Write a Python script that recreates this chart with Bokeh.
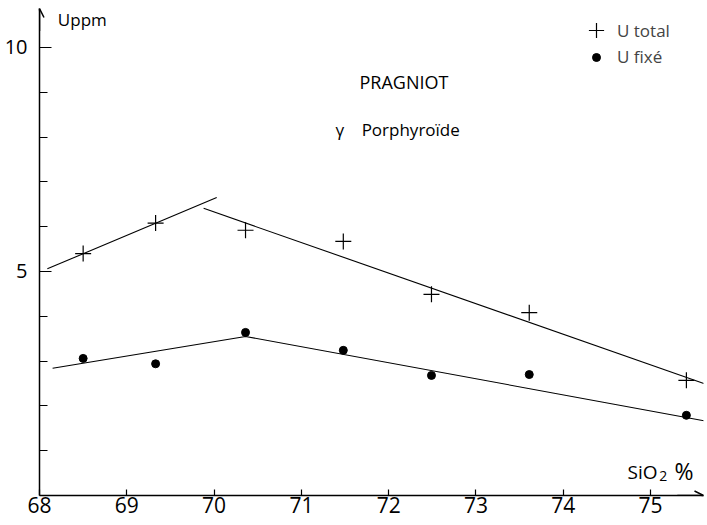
from bokeh.plotting import figure
from bokeh.models import Range1d, FixedTicker, Arrow, OpenHead, Legend, LegendItem
from bokeh.core.properties import value
from bokeh.embed import file_html
from bokeh.resources import INLINE

# ---- data ----
sio2 = [68.5, 69.33, 70.36, 71.48, 72.49, 73.61, 75.41]
u_total = [5.40, 6.08, 5.92, 5.67, 4.49, 4.08, 2.57]
u_fixe = [3.06, 2.94, 3.64, 3.24, 2.68, 2.70, 1.79]

# hand-drawn trend lines (end points)
total_trend1_x = [68.09, 70.03]
total_trend1_y = [5.06, 6.65]
total_trend2_x = [69.88, 75.61]
total_trend2_y = [6.41, 2.50]
fixe_trend_x = [68.15, 70.36, 75.61]
fixe_trend_y = [2.84, 3.55, 1.67]

x_ticks = [68, 69, 70, 71, 72, 73, 74, 75]
y_major_ticks = [5, 10]
y_minor_ticks = [1, 2, 3, 4, 6, 7, 8, 9]

X_START, X_END = 68, 75.606
Y_START, Y_END = 0, 10.87

FONT = "Open Sans"

p = figure(width=705, height=525,
           x_range=Range1d(X_START, X_END), y_range=Range1d(Y_START, Y_END),
           output_backend="svg", toolbar_location=None,
           min_border_left=39, min_border_right=2, min_border_top=8, min_border_bottom=30)
p.outline_line_color = None
p.xgrid.visible = False
p.ygrid.visible = False
p.background_fill_color = "white"
p.border_fill_color = "white"

# x axis
xa = p.xaxis[0]
xa.ticker = FixedTicker(ticks=x_ticks)
xa.major_tick_in = 6
xa.major_tick_out = 0
xa.minor_tick_in = 0
xa.minor_tick_out = 0
xa.axis_line_width = 1.5
xa.major_tick_line_width = 1.2
xa.major_label_standoff = 1
xa.major_label_text_font = FONT
xa.major_label_text_font_size = "21px"
xa.major_label_text_color = "black"

# y axis
ya = p.yaxis[0]
ya.ticker = FixedTicker(ticks=y_major_ticks, minor_ticks=y_minor_ticks)
ya.major_tick_in = 12
ya.major_tick_out = 0
ya.minor_tick_in = 8
ya.minor_tick_out = 0
ya.axis_line_width = 1.5
ya.major_tick_line_width = 1.2
ya.minor_tick_line_width = 1.2
ya.minor_tick_line_color = "black"
ya.major_label_standoff = 12
ya.major_label_text_font = FONT
ya.major_label_text_font_size = "20px"
ya.major_label_text_color = "black"

# arrows at the axis ends
p.add_layout(Arrow(end=OpenHead(size=9, line_width=1.5), x_start=X_END - 0.3, y_start=0,
                   x_end=X_END, y_end=0, line_width=1.5))
p.add_layout(Arrow(end=OpenHead(size=9, line_width=1.5), x_start=X_START, y_start=Y_END - 0.5,
                   x_end=X_START, y_end=Y_END, line_width=1.5))

# trend lines
p.line(total_trend1_x, total_trend1_y, line_color="black", line_width=1.1)
p.line(total_trend2_x, total_trend2_y, line_color="black", line_width=1.1)
p.line(fixe_trend_x, fixe_trend_y, line_color="black", line_width=1.1)

# points
r_total = p.scatter(sio2, u_total, marker="cross", size=16, line_color="black", line_width=1.2)
r_fixe = p.scatter(sio2, u_fixe, marker="circle", size=8, fill_color="black", line_color="black")

legend_total = Legend(items=[LegendItem(label="U total", renderers=[r_total])],
                      location=(538, 446), padding=0, margin=0, spacing=0,
                      glyph_width=38, glyph_height=38, label_height=38, label_standoff=2,
                      label_text_font=FONT, label_text_font_size="17px",
                      background_fill_alpha=0, border_line_alpha=0)
legend_fixe = Legend(items=[LegendItem(label="U fixé", renderers=[r_fixe])],
                     location=(547, 427), padding=0, margin=0, spacing=0,
                     glyph_width=20, glyph_height=20, label_height=20, label_standoff=11,
                     label_text_font=FONT, label_text_font_size="17px",
                     background_fill_alpha=0, border_line_alpha=0)
p.add_layout(legend_total)
p.add_layout(legend_fixe)

# annotations
p.text([68.21], [10.62], text=["Uppm"], text_font=value(FONT), text_font_size="17px",
       text_baseline="middle", text_align="left", text_color="black")
p.text([71.666], [9.22], text=["PRAGNIOT"], text_font=value(FONT), text_font_size="18px",
       text_baseline="middle", text_align="left", text_color="black")
p.text([71.39, 71.69], [8.17, 8.17], text=["γ", "Porphyroïde"], text_font=value(FONT),
       text_font_size="17px", text_baseline="middle", text_align="left", text_color="black")

# x-axis title: SiO2 %
p.text([74.735], [0.525], text=["SiO"], text_font=value(FONT), text_font_size="19px",
       text_baseline="middle", text_align="left", text_color="black")
p.text([75.10], [0.446], text=["2"], text_font=value(FONT), text_font_size="14px",
       text_baseline="middle", text_align="left", text_color="black")
p.text([75.274], [0.536], text=["%"], text_font=value(FONT), text_font_size="23px",
       text_baseline="middle", text_align="left", text_color="black")

open("out.html", "w").write(file_html(p, INLINE))
